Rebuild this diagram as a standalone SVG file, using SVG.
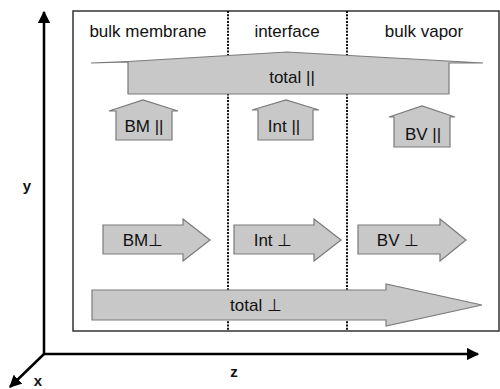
<svg xmlns="http://www.w3.org/2000/svg" width="500" height="389" viewBox="0 0 500 389">
<defs>
<style>
.shape{fill:#c8c8c8;stroke:#7a7a7a;stroke-width:1.2}
.lbl{font-family:"Liberation Sans",Arial,sans-serif;font-size:17px;fill:#111;text-anchor:middle}
.ax{font-family:"Liberation Sans",Arial,sans-serif;font-size:15px;font-weight:bold;fill:#111;text-anchor:middle}
.axis{stroke:#000;stroke-width:2.5;fill:none}
.div{stroke:#111;stroke-width:2;stroke-dasharray:2 1.3;fill:none}
</style>
<marker id="ah" viewBox="0 0 10 10" refX="9" refY="5" markerWidth="5" markerHeight="5" orient="auto" markerUnits="strokeWidth">
<path d="M0,0 L10,5 L0,10 z" fill="#000"/>
</marker>
</defs>
<rect width="500" height="389" fill="#fff"/>
<g id="frame">
<rect x="73" y="11" width="426" height="320" fill="#fff" stroke="#333" stroke-width="1.5"/>
<line class="div" x1="228" y1="11" x2="228" y2="331"/>
<line class="div" x1="347" y1="11" x2="347" y2="331"/>
</g>
<g id="connectors">
<line class="axis" x1="44" y1="355" x2="44" y2="12" marker-end="url(#ah)"/>
<line class="axis" x1="43" y1="354" x2="478" y2="354" marker-end="url(#ah)"/>
<line class="axis" x1="44" y1="354" x2="10" y2="387" marker-end="url(#ah)"/>
</g>
<g id="axis-labels">
<text class="ax" x="27" y="191">y</text>
<text class="ax" x="234" y="377">z</text>
<text class="ax" x="38" y="386">x</text>
</g>
<g id="region-labels">
<text class="lbl" x="148" y="37">bulk membrane</text>
<text class="lbl" x="287" y="37">interface</text>
<text class="lbl" x="424" y="37">bulk vapor</text>
</g>
<g id="total-par">
<polygon class="shape" points="91,63 128,61.5 287,52 483,63 449,63 449,94 128,94 128,62"/>
<text class="lbl" x="292" y="83">total ||</text>
</g>
<g id="bm-par">
<polygon class="shape" points="109,111 143,100 178,111 172,111 172,140 116,140 116,111"/>
<text class="lbl" x="144" y="132">BM ||</text>
</g>
<g id="int-par">
<polygon class="shape" points="252,110 286,100 319,110 313,110 313,140 258,140 258,110"/>
<text class="lbl" x="284" y="132">Int ||</text>
</g>
<g id="bv-par">
<polygon class="shape" points="389,117 422,106 455,117 450,117 450,147 394,147 394,117"/>
<text class="lbl" x="423" y="140">BV ||</text>
</g>
<g id="bm-perp">
<polygon class="shape" points="103,225 183,225 183,219 210,240 183,261 183,254 103,254"/>
<text class="lbl" x="143" y="246">BM⊥</text>
</g>
<g id="int-perp">
<polygon class="shape" points="234,225 314,225 314,219 341,240 314,261 314,254 234,254"/>
<text class="lbl" x="273" y="246">Int ⊥</text>
</g>
<g id="bv-perp">
<polygon class="shape" points="358,225 440,225 440,219 466,240 440,261 440,254 358,254"/>
<text class="lbl" x="398" y="246">BV ⊥</text>
</g>
<g id="total-perp">
<polygon class="shape" points="92,290 386,290 386,284 482,305 386,326 386,320 92,320"/>
<text class="lbl" x="256" y="311">total ⊥</text>
</g>
</svg>
